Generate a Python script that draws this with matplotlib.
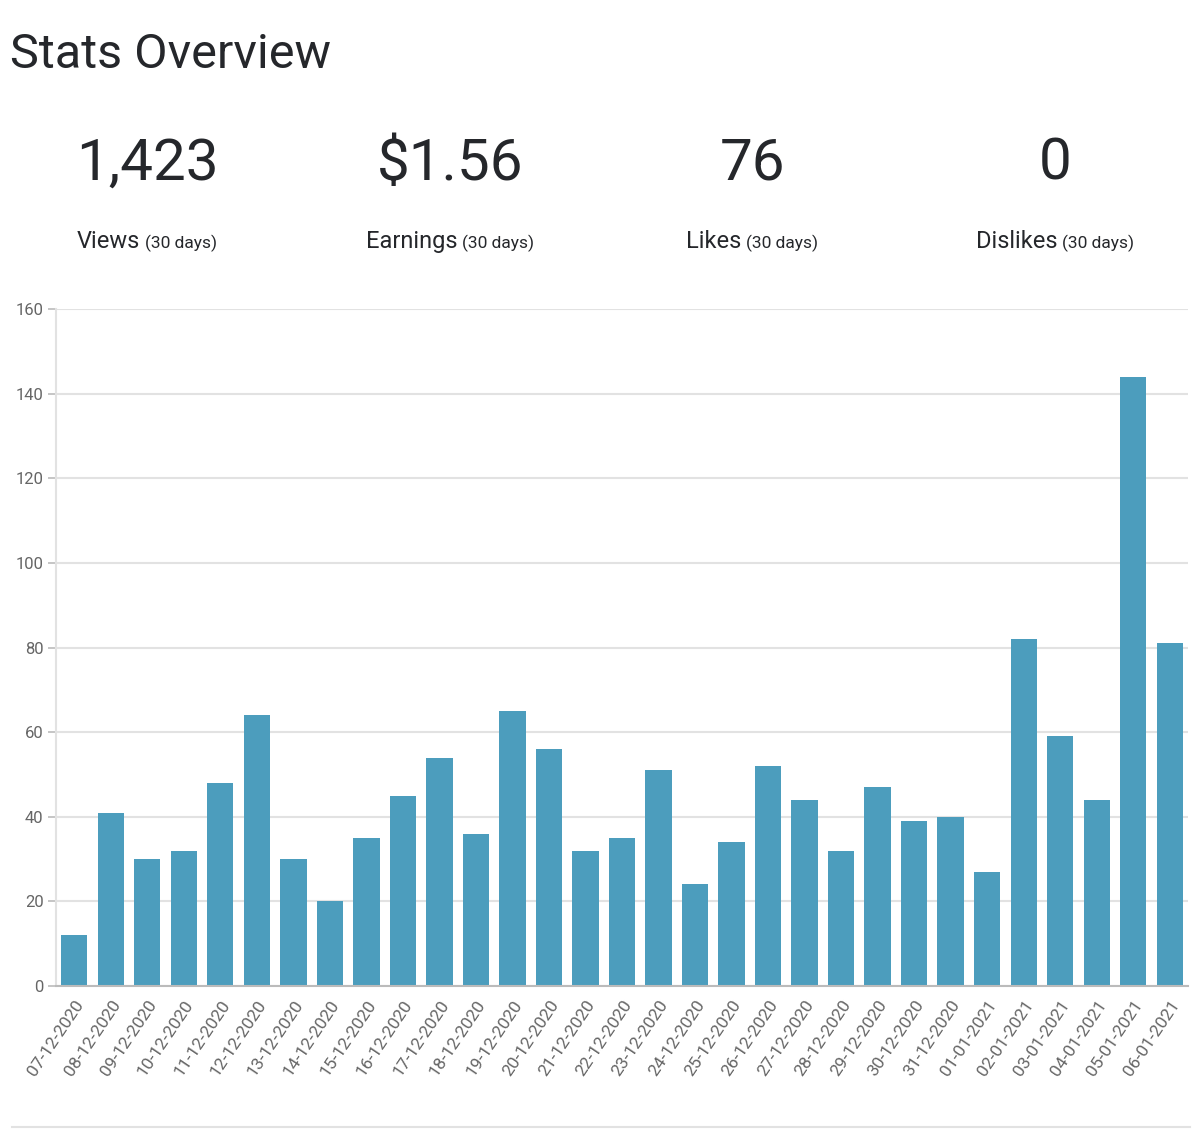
import matplotlib
matplotlib.use("Agg")
import matplotlib.pyplot as plt
from matplotlib.lines import Line2D

# data
dates = ["07-12-2020", "08-12-2020", "09-12-2020", "10-12-2020", "11-12-2020",
         "12-12-2020", "13-12-2020", "14-12-2020", "15-12-2020", "16-12-2020",
         "17-12-2020", "18-12-2020", "19-12-2020", "20-12-2020", "21-12-2020",
         "22-12-2020", "23-12-2020", "24-12-2020", "25-12-2020", "26-12-2020",
         "27-12-2020", "28-12-2020", "29-12-2020", "30-12-2020", "31-12-2020",
         "01-01-2021", "02-01-2021", "03-01-2021", "04-01-2021", "05-01-2021",
         "06-01-2021"]
views = [12, 41, 30, 32, 48, 64, 30, 20, 35, 45, 54, 36, 65, 56, 32, 35, 51,
         24, 34, 52, 44, 32, 47, 39, 40, 27, 82, 59, 44, 144, 81]

stat_values = ["1,423", "$1.56", "76", "0"]
stat_names = ["Views", "Earnings", "Likes", "Dislikes"]
stat_period = "(30 days)"

plt.rcParams['font.family'] = ["Roboto", "DejaVu Sans"]
DARK = "#25272b"
GREY = "#666666"
BAR = "#4c9dbd"

W, H = 1200, 1136
fig = plt.figure(figsize=(W / 100, H / 100), dpi=100)

def fx(px):
    return px / W

def fy(py):
    return 1 - py / H

fig.text(fx(10), fy(68), "Stats Overview", fontsize=35, color=DARK, va="baseline")

# stat blocks: big number, then "Name (30 days)" centred as a group
centers = [147, 450, 752, 1055]
renderer = fig.canvas.get_renderer()
for i in range(len(stat_values)):
    fig.text(fx(centers[i]), fy(180), stat_values[i], fontsize=42, color=DARK,
             ha="center", va="baseline")
    name = fig.text(0, fy(248), stat_names[i], fontsize=17, color=DARK,
                    ha="left", va="baseline")
    per = fig.text(0, fy(248), stat_period, fontsize=12.5, color=DARK,
                   ha="left", va="baseline")
    w1 = name.get_window_extent(renderer).width
    w2 = per.get_window_extent(renderer).width
    gap = 5
    left = centers[i] - (w1 + gap + w2) / 2
    name.set_x(fx(left))
    per.set_x(fx(left + w1 + gap))

# bar chart
ax = fig.add_axes([fx(56), fy(986), fx(1188) - fx(56), fy(309) - fy(986)])
x = list(range(len(views)))
ax.bar(x, views, width=0.72, color=BAR, zorder=3)
ax.set_xlim(-0.5, len(views) - 0.5)
ax.set_ylim(0, 160)
ax.set_yticks(range(0, 161, 20))
ax.yaxis.grid(True, color="#e2e2e2", linewidth=1.5, zorder=0)
ax.set_xticks(x)
ax.set_xticklabels(dates, rotation=56, ha="right", rotation_mode="anchor",
                   fontsize=12.5, color=GREY)
ax.tick_params(axis="x", length=0, pad=8)
ax.tick_params(axis="y", length=6, width=1.2, color="#bbbbbb", labelsize=12,
               labelcolor=GREY, pad=3)
for s in ["top", "right"]:
    ax.spines[s].set_visible(False)
ax.spines["left"].set_color("#e2e2e2")
ax.spines["left"].set_linewidth(1.5)
ax.spines["bottom"].set_color("#bbbbbb")
ax.spines["bottom"].set_linewidth(1.5)
ax.spines["bottom"].set_zorder(4)

# separator line under the chart
fig.add_artist(Line2D([fx(12), fx(1190)], [fy(1127), fy(1127)],
                      color="#e2e2e2", linewidth=1.5))

fig.savefig("out.png", dpi=100)
